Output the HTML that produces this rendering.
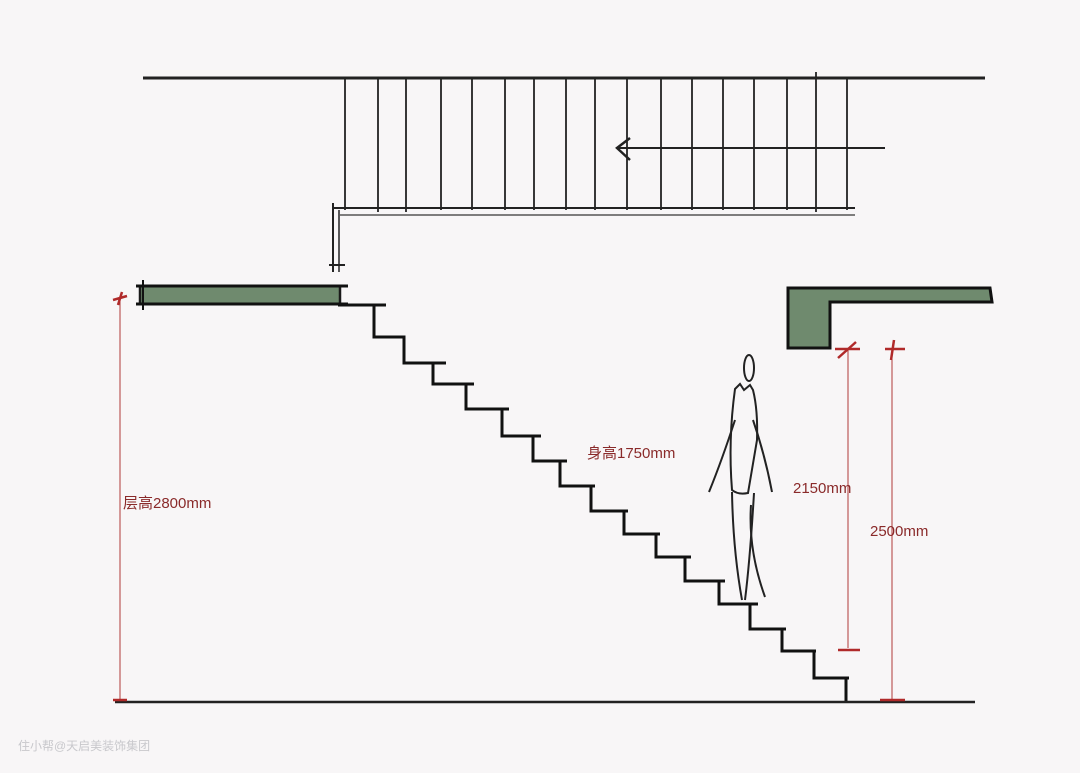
<!DOCTYPE html>
<html><head><meta charset="utf-8"><style>
html,body{margin:0;padding:0;background:#f8f6f7;}
svg{display:block}
text{font-family:"Liberation Sans","Noto Sans CJK SC",sans-serif;}
</style></head><body>
<svg width="1080" height="773" viewBox="0 0 1080 773" xmlns="http://www.w3.org/2000/svg">
<rect width="1080" height="773" fill="#f8f6f7"/>
<line x1="143" y1="78" x2="985" y2="78" stroke="#222" stroke-width="3"/>
<g stroke="#222" stroke-width="1.8">
<line x1="345" y1="78" x2="345" y2="210"/><line x1="378" y1="78" x2="378" y2="212"/>
<line x1="406" y1="78" x2="406" y2="212"/><line x1="441" y1="78" x2="441" y2="210"/>
<line x1="472" y1="78" x2="472" y2="210"/><line x1="505" y1="78" x2="505" y2="210"/>
<line x1="534" y1="78" x2="534" y2="210"/><line x1="566" y1="78" x2="566" y2="210"/>
<line x1="595" y1="78" x2="595" y2="210"/><line x1="627" y1="78" x2="627" y2="210"/>
<line x1="661" y1="78" x2="661" y2="210"/><line x1="692" y1="78" x2="692" y2="210"/>
<line x1="723" y1="78" x2="723" y2="210"/><line x1="754" y1="78" x2="754" y2="210"/>
<line x1="787" y1="78" x2="787" y2="210"/><line x1="816" y1="72" x2="816" y2="212"/>
<line x1="847" y1="78" x2="847" y2="210"/>
</g>
<line x1="332" y1="208" x2="855" y2="208" stroke="#222" stroke-width="2"/>
<line x1="340" y1="215" x2="855" y2="215" stroke="#555" stroke-width="1.5"/>
<line x1="333" y1="203" x2="333" y2="272" stroke="#222" stroke-width="2"/>
<line x1="339" y1="210" x2="339" y2="272" stroke="#222" stroke-width="1.5"/>
<line x1="329" y1="265" x2="345" y2="265" stroke="#222" stroke-width="2"/>
<line x1="617" y1="148" x2="885" y2="148" stroke="#222" stroke-width="2"/>
<polyline points="630,138 617,148 630,160" fill="none" stroke="#222" stroke-width="2.5"/>
<rect x="140" y="286" width="200" height="18" fill="#6f8a6e" stroke="#1a1a1a" stroke-width="2.5"/>
<line x1="136" y1="286" x2="348" y2="286" stroke="#111" stroke-width="3"/>
<line x1="136" y1="304" x2="348" y2="304" stroke="#111" stroke-width="3"/>
<line x1="143" y1="280" x2="143" y2="310" stroke="#111" stroke-width="2"/>
<path d="M788,288 L990,288 L992,302 L830,302 L830,348 L788,348 Z" fill="#6f8a6e" stroke="#111" stroke-width="3"/>
<polyline fill="none" stroke="#111" stroke-width="3" points="338,305 386,305 374,305 374,337 404,337 404,363 446,363 433,363 433,384 474,384 466,384 466,409 509,409 502,409 502,436 541,436 533,436 533,461 567,461 560,461 560,486 595,486 591,486 591,511 628,511 624,511 624,534 660,534 656,534 656,557 691,557 685,557 685,581 725,581 719,581 719,604 758,604 750,604 750,629 786,629 782,629 782,651 816,651 814,651 814,678 849,678 846,678 846,703"/>
<line x1="115" y1="702" x2="975" y2="702" stroke="#222" stroke-width="2.5"/>
<g stroke="#b03a3a" stroke-width="1">
<line x1="120" y1="298" x2="120" y2="700"/>
<line x1="848" y1="348" x2="848" y2="648"/>
<line x1="892" y1="348" x2="892" y2="700"/>
</g>
<g stroke="#b02a2a" stroke-width="2.5">
<line x1="113" y1="300" x2="127" y2="296"/><line x1="118" y1="305" x2="122" y2="292"/>
<line x1="113" y1="700" x2="127" y2="700"/><line x1="838" y1="358" x2="856" y2="342"/>
<line x1="835" y1="349" x2="860" y2="349"/><line x1="885" y1="349" x2="905" y2="349"/>
<line x1="891" y1="360" x2="894" y2="340"/><line x1="838" y1="650" x2="860" y2="650"/>
<line x1="880" y1="700" x2="905" y2="700"/>
</g>
<g fill="none" stroke="#222" stroke-width="2">
<ellipse cx="749" cy="368" rx="5" ry="13"/>
<path d="M735,389 L740,384 L744,390 L750,385 L753,390 Q758,410 757,440 Q752,470 748,493 Q738,495 732,490 Q728,440 735,389 Z"/>
<path d="M735,420 Q722,460 709,492"/>
<path d="M753,420 Q765,455 772,492"/>
<path d="M732,492 Q733,550 742,600"/>
<path d="M754,493 Q750,560 745,600"/>
<path d="M751,505 Q748,550 765,597"/>
</g>
<text x="123" y="508" font-size="15" fill="#8a2a2a">层高2800mm</text>
<text x="587" y="458" font-size="15" fill="#8a2a2a">身高1750mm</text>
<text x="793" y="493" font-size="15" fill="#8a2a2a">2150mm</text>
<text x="870" y="536" font-size="15" fill="#8a2a2a">2500mm</text>
<text x="18" y="750" font-size="12" fill="#c8c8cc">住小帮@天启美装饰集团</text>
</svg>
</body></html>
